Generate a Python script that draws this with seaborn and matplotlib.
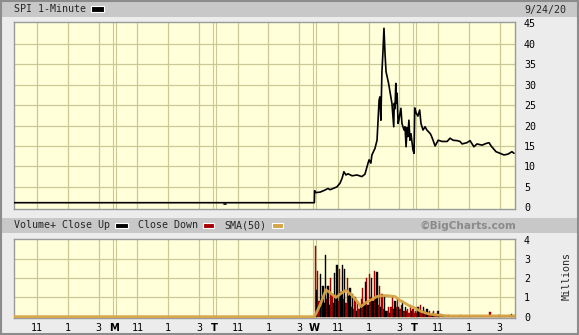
import matplotlib
matplotlib.use("Agg")
import matplotlib.pyplot as plt
import seaborn as sns
import numpy as np
import pandas as pd
from matplotlib.patches import Rectangle

# ---------------- data (minutes since first session open; 390 min per session) ----------------
session_len = 390
n_sessions = 5
hour_offsets = [90, 210, 330]
hour_labels = ["11", "1", "3"]
day_labels = ["M", "T", "W", "T"]

price_t = [0, 1169, 1170, 1175, 1191, 1210, 1222, 1230, 1242, 1257, 1269, 1277, 1284, 1292, 1300,
           1316, 1335, 1354, 1366, 1378, 1382, 1389, 1393, 1405, 1413, 1417, 1421, 1424, 1428, 1432,
           1436, 1440, 1444, 1448, 1458, 1471, 1478, 1480, 1483, 1486, 1489, 1491, 1495, 1498, 1506,
           1510, 1518, 1522, 1526, 1530, 1533, 1537, 1541, 1545, 1553, 1557, 1560, 1565, 1572, 1579,
           1584, 1592, 1600, 1607, 1619, 1623, 1631, 1639, 1651, 1666, 1686, 1697, 1709, 1725, 1736,
           1744, 1763, 1775, 1790, 1802, 1822, 1837, 1849, 1857, 1876, 1892, 1907, 1923, 1938, 1946]
price_v = [1.12, 1.12, 4.06, 3.6, 3.7, 4.2, 4.6, 4.3, 4.6, 5.0, 5.9, 7.1, 8.7, 7.9, 8.2,
           7.7, 7.9, 7.5, 8.1, 10.8, 11.6, 10.8, 12.8, 14.4, 16.4, 21.3, 26.2, 27.0, 21.3, 33.0,
           38.0, 43.8, 37.7, 33.2, 30.3, 25.4, 19.7, 25.4, 24.1, 30.3, 25.4, 27.9, 20.5, 21.3, 24.2,
           20.5, 18.9, 19.7, 14.8, 19.5, 17.3, 21.3, 16.4, 18.0, 14.0, 13.2, 24.3, 23.1, 22.3, 23.8,
           20.5, 18.9, 19.7, 18.9, 18.1, 17.7, 16.4, 15.0, 16.4, 16.1, 16.1, 16.9, 16.4, 16.3, 16.1,
           15.5, 15.8, 16.3, 14.8, 15.5, 15.2, 15.6, 15.8, 15.0, 13.6, 13.2, 12.8, 13.0, 13.6, 13.2]
stray_t = [818, 824]
stray_v = [0.75, 0.75]

# volume (millions), 5-minute bars for Wednesday and Thursday sessions
vol_wed = [3.7, 1.4, 2.4, 0.8, 2.2, 1.0, 1.6, 0.7,
           3.2, 0.9, 1.6, 0.6, 2.0, 1.2, 0.7, 2.3,
           1.0, 2.7, 0.8, 2.5, 1.3, 2.7, 0.9, 2.5,
           0.7, 2.0, 1.1, 1.5, 0.5, 1.2, 0.4, 1.0,
           0.3, 0.8, 0.4, 0.6, 0.9, 1.5, 0.7, 1.8,
           2.0, 0.6, 2.2, 1.0, 2.0, 0.8, 2.4, 1.0,
           2.35, 0.6, 1.6, 0.5, 1.2, 0.4, 1.1, 0.3,
           0.3, 0.5, 0.2, 0.5, 1.0, 0.4, 0.8, 0.5,
           0.9, 0.5, 0.4, 0.6, 0.8, 0.3, 0.5, 0.3,
           0.4, 0.2, 0.6, 0.3, 0.4, 0.2]
vol_thu = [0.3, 0.2, 0.5, 0.3, 0.6, 0.2, 0.5, 0.3,
           0.2, 0.4, 0.2, 0.3, 0.1, 0.2, 0.3, 0.1,
           0.15, 0.3, 0.3, 0.08, 0.12, 0.05, 0.1, 0.06,
           0.05, 0.04, 0.08, 0.05, 0.03, 0.06, 0.04, 0.05,
           0.03, 0.05, 0.04, 0.1, 0.03, 0.05, 0.04, 0.06,
           0.03, 0.05, 0.04, 0.03, 0.06, 0.04, 0.05, 0.03,
           0.04, 0.06, 0.03, 0.05, 0.04, 0.03, 0.05, 0.04,
           0.03, 0.05, 0.25, 0.04, 0.06, 0.03, 0.05, 0.04,
           0.03, 0.1, 0.04, 0.05, 0.03, 0.06, 0.04, 0.05,
           0.03, 0.1, 0.05, 0.15, 0.04, 0.05]
dir_wed = "dudduduu uduudduu dudduudu dduududd uddudduu dudduudu uddudduu ddudduud duddudud dddudd"
dir_thu = "ddudddud dudddudd dduddudu ddudddud dduddudd uddddudd dddudddd ddduddud dudddudd ddduud"

sma_t = [0, 1170, 1191, 1214, 1235, 1253, 1272, 1292, 1316, 1335, 1351, 1372, 1393, 1413, 1424,
         1450, 1483, 1502, 1522, 1541, 1561, 1580, 1611, 1646, 1697, 1950]
sma_v = [0, 0, 0.6, 1.4, 1.2, 1.0, 1.2, 1.38, 1.1, 0.8, 0.53, 0.75, 0.9, 1.05, 1.08,
         1.1, 1.05, 0.85, 0.7, 0.55, 0.45, 0.3, 0.15, 0.08, 0.04, 0.04]

price_ticks = [0, 5, 10, 15, 20, 25, 30, 35, 40, 45]
vol_ticks = [0, 1, 2, 3, 4]

# ---------------- styling ----------------
W, H = 579, 335
FIG_BG = "#ECECEC"
BAND = "#C8C8C8"
PLOT_BG = "#FFFFDA"
GRID = "#C9C996"
RED = "#A80000"
SMA_C = "#D6A445"
MONO = ["DejaVu Sans Mono"]

sns.set_theme(style="white")
plt.rcParams["font.family"] = MONO

fig = plt.figure(figsize=(W / 100, H / 100), dpi=100, facecolor=FIG_BG)


def fx(x):
    return x / W


def fy(y):
    return 1 - y / H


def frect(x0, y0, x1, y1, **kw):
    fig.patches.append(Rectangle((fx(x0), fy(y1)), (x1 - x0) / W, (y1 - y0) / H,
                                 transform=fig.transFigure, **kw))


# outer frame and header bands
frect(1, 1, 578, 334, facecolor="none", edgecolor="#8C8C8C", lw=1.5, zorder=5)
frect(2, 2, 577, 17, facecolor=BAND, edgecolor="none", zorder=0)
frect(2, 218, 577, 232.5, facecolor=BAND, edgecolor="none", zorder=0)

# ---------------- axes ----------------
ax1 = fig.add_axes([fx(14), fy(209), 501 / W, 187 / H])
ax2 = fig.add_axes([fx(14), fy(318), 501 / W, 79 / H])

total = session_len * n_sessions
hour_pos = [d * session_len + h for d in range(n_sessions) for h in hour_offsets]
day_pos = [d * session_len for d in range(1, n_sessions)]

for ax in (ax1, ax2):
    ax.set_facecolor(PLOT_BG)
    ax.set_xlim(0, total)
    for p in hour_pos:
        ax.axvline(p, color=GRID, lw=0.9, zorder=0.5)
    for p in day_pos:
        ax.axvline(p - 5.5, color=GRID, lw=0.8, zorder=0.5)
        ax.axvline(p + 5.5, color=GRID, lw=0.8, zorder=0.5)
    for s in ax.spines.values():
        s.set_color("#9A9A9A")
        s.set_linewidth(1.0)
    ax.yaxis.tick_right()
    ax.tick_params(axis="y", length=0, pad=6.5, labelsize=7.2, colors="black")
    ax.tick_params(axis="x", length=0)
    ax.grid(False)

for v in price_ticks[1:-1]:
    ax1.axhline(v, color=GRID, lw=0.9, zorder=0.5)
for v in vol_ticks[1:-1]:
    ax2.axhline(v, color=GRID, lw=0.9, zorder=0.5)

sns.lineplot(x=price_t, y=price_v, ax=ax1, color="black", lw=1.2, estimator=None, zorder=3)
sns.lineplot(x=stray_t, y=stray_v, ax=ax1, color="black", lw=1.2, estimator=None, zorder=3)
ax1.set_ylim(-0.42, 45.32)
ax1.set_yticks(price_ticks)
ax1.set_yticklabels([str(v) for v in price_ticks])
ax1.set_xticks([])
ax1.set_xlabel("")
ax1.set_ylabel("")

# ---------------- volume ----------------
vols = vol_wed + vol_thu
dirs = "".join(dir_wed.split()) + "".join(dir_thu.split())
assert len(vol_wed) == 78 and len(vol_thu) == 78 and len(dirs) == 156
bar_t = [3 * session_len + 5 * i for i in range(len(vols))]
vdf = pd.DataFrame({"t": bar_t, "vol": vols, "dir": list(dirs)})
for key, col in (("d", RED), ("u", "black")):
    sub = vdf[vdf["dir"] == key]
    ax2.bar(sub["t"], sub["vol"], width=5.0, align="edge", color=col, linewidth=0.3,
            edgecolor=col, zorder=2)

sns.lineplot(x=sma_t, y=sma_v, ax=ax2, color=SMA_C, lw=2.0, estimator=None, zorder=3, alpha=0.95)
ax2.set_ylim(-0.07, 4.05)
ax2.set_yticks(vol_ticks)
ax2.set_yticklabels([str(v) for v in vol_ticks])
ax2.set_xlabel("")
ax2.set_ylabel("")

xt = sorted(hour_pos + day_pos)
lab_map = {}
for d in range(n_sessions):
    for h, l in zip(hour_offsets, hour_labels):
        lab_map[d * session_len + h] = l
for p, l in zip(day_pos, day_labels):
    lab_map[p] = l
ax2.set_xticks(xt)
ax2.set_xticklabels([lab_map[p] for p in xt])
ax2.tick_params(axis="x", length=0, pad=3.5, labelsize=7.2, colors="black")
for t in ax2.get_xticklabels():
    if t.get_text() in day_labels:
        t.set_fontweight("bold")
        t.set_family(["DejaVu Sans"])

# ---------------- header texts ----------------
fig.text(fx(14), fy(9.5), "SPI 1-Minute", fontsize=7.2, va="center", ha="left", family=MONO)
frect(91, 6.5, 104, 11.5, facecolor="black", edgecolor="white", lw=0.8, zorder=3)
fig.text(fx(566), fy(9.5), "9/24/20", fontsize=7.2, va="center", ha="right", family=MONO)

fig.text(fx(14), fy(225.5), "Volume+ Close Up", fontsize=7.2, va="center", ha="left", family=MONO)
frect(115, 223, 128, 227.5, facecolor="black", edgecolor="white", lw=0.8, zorder=3)
fig.text(fx(137.5), fy(225.5), "Close Down", fontsize=7.2, va="center", ha="left", family=MONO)
frect(203, 223, 214, 227.5, facecolor=RED, edgecolor="white", lw=0.8, zorder=3)
fig.text(fx(224), fy(225.5), "SMA(50)", fontsize=7.2, va="center", ha="left", family=MONO)
frect(272, 223, 283, 227.5, facecolor=SMA_C, edgecolor="white", lw=0.8, zorder=3)
fig.text(fx(516), fy(225.5), "\u00a9BigCharts.com", fontsize=7.6, va="center", ha="right",
         fontweight="bold", color="#8A8A8A", family=["DejaVu Sans"])

fig.text(fx(567), fy(275.5), "Millions", fontsize=7.2, va="center", ha="center", rotation=90,
         family=MONO)

fig.savefig("out.png", dpi=100, facecolor=FIG_BG)
